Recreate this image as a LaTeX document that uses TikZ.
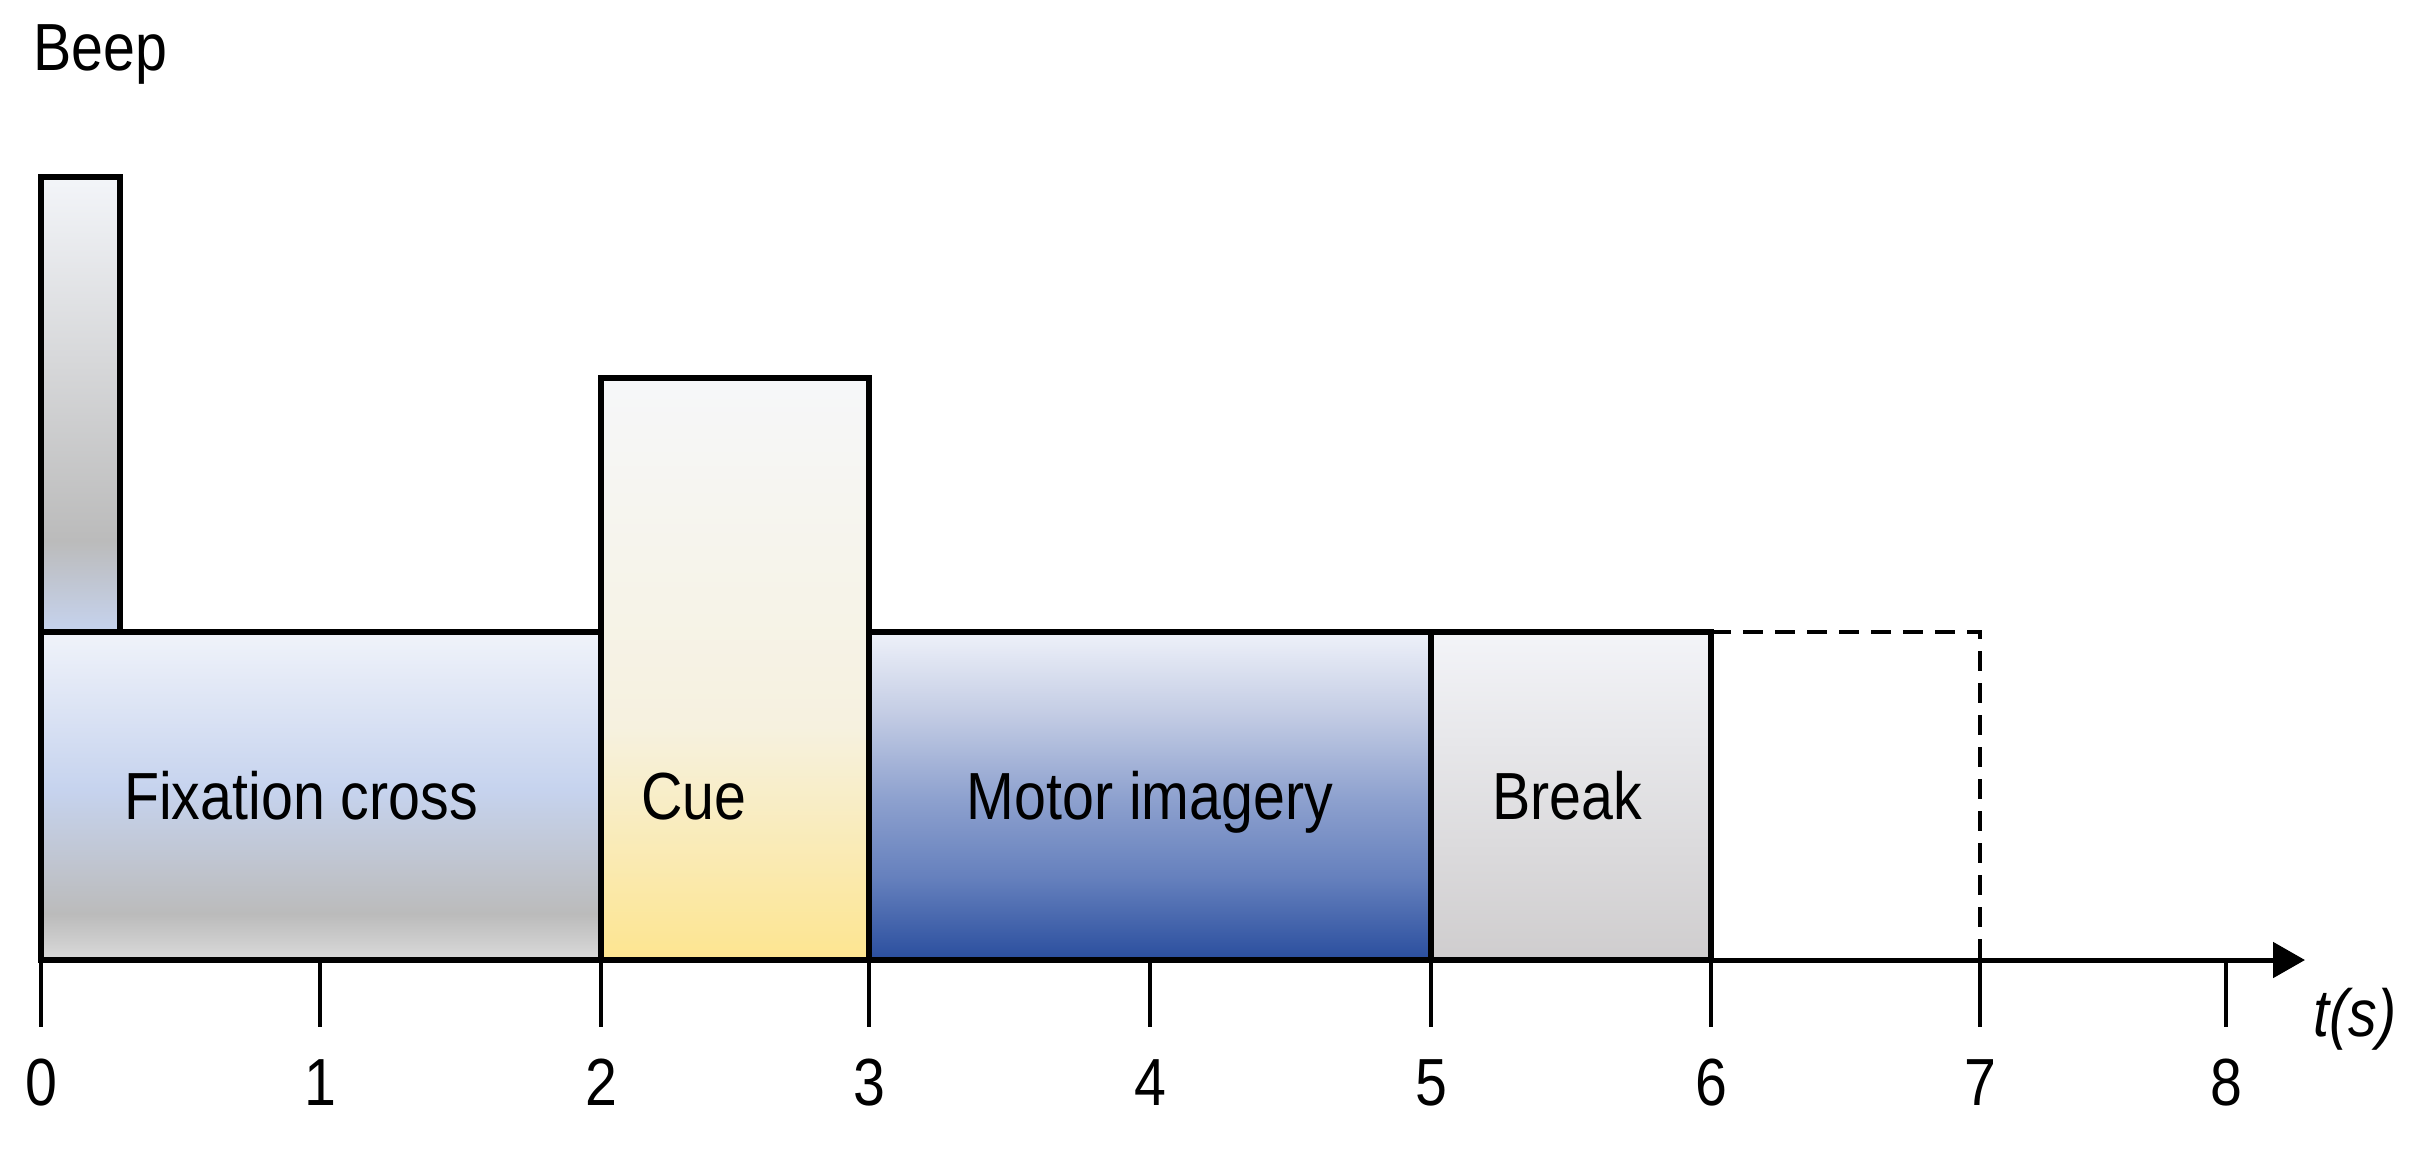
\documentclass[tikz,border=0pt]{standalone}
\usepackage{fontspec}
\setmainfont{Liberation Sans}[FakeStretch=0.86]
\usetikzlibrary{arrows.meta}

\definecolor{fixtop}{HTML}{F0F3FA}
\definecolor{fixblue}{HTML}{C6D3EE}
\definecolor{fixgrey}{HTML}{BBBBBB}
\definecolor{fixbot}{HTML}{DADADA}
\definecolor{beeptop}{HTML}{F3F5F9}
\definecolor{cuetop}{HTML}{F6F7F9}
\definecolor{cuemid}{HTML}{F6F1DF}
\definecolor{cuebot}{HTML}{FDE590}
\definecolor{mitop}{HTML}{EEF1F9}
\definecolor{mia}{HTML}{C3CCE4}
\definecolor{mib}{HTML}{8FA2CF}
\definecolor{mic}{HTML}{6580BD}
\definecolor{mibot}{HTML}{2A4E9E}
\definecolor{brktop}{HTML}{F3F4F8}
\definecolor{brkbot}{HTML}{CFCDCE}

\pgfdeclareverticalshading{beepshade}{100bp}{color(0bp)=(fixblue); color(25bp)=(fixblue); color(35bp)=(fixgrey); color(75bp)=(beeptop); color(100bp)=(beeptop)}
\pgfdeclareverticalshading{fixshade}{100bp}{color(0bp)=(fixbot); color(25bp)=(fixbot); color(32bp)=(fixgrey); color(51bp)=(fixblue); color(75bp)=(fixtop); color(100bp)=(fixtop)}
\pgfdeclareverticalshading{cueshade}{100bp}{color(0bp)=(cuebot); color(25bp)=(cuebot); color(45bp)=(cuemid); color(75bp)=(cuetop); color(100bp)=(cuetop)}
\pgfdeclareverticalshading{mishade}{100bp}{color(0bp)=(mibot); color(25bp)=(mibot); color(37.5bp)=(mic); color(50bp)=(mib); color(62.5bp)=(mia); color(75bp)=(mitop); color(100bp)=(mitop)}
\pgfdeclareverticalshading{brkshade}{100bp}{color(0bp)=(brkbot); color(25bp)=(brkbot); color(75bp)=(brktop); color(100bp)=(brktop)}

\begin{document}
\begin{tikzpicture}[x=0.3pt,y=-0.3pt,every node/.style={inner sep=0pt,font=\fontsize{20}{24}\selectfont}]
  \tikzstyle{phase}=[draw=black,line width=1.6pt]
  \tikzstyle{tick}=[line width=1.2pt]
  \tikzstyle{axis}=[line width=1.5pt,-{Triangle[length=9.6pt,width=10.5pt]}]

  \useasboundingbox (0,0) rectangle (2421,1164);

  \draw[phase,shading=beepshade] (41,177) rectangle (120,632);
  \draw[phase,shading=fixshade] (41,632) rectangle (601,960);
  \draw[phase,shading=cueshade] (601,378) rectangle (869,960);
  \draw[phase,shading=mishade] (869,632) rectangle (1431,960);
  \draw[phase,shading=brkshade] (1431,632) rectangle (1711,960);
  \draw[phase,line width=1.4pt,dash pattern=on 6pt off 3.6pt] (1711,632) -| (1980,960) -- (1711,960);

  \node[anchor=base west] (beep) at (33,70) {Beep};
  \node[anchor=base] (fix) at (301,819) {Fixation cross};
  \node[anchor=base] (cue) at (694,819) {Cue};
  \node[anchor=base] (mi) at (1150,819) {Motor imagery};
  \node[anchor=base] (brk) at (1567,819) {Break};

  \draw[axis] (41,960) -- (2305,960);
  \foreach \x/\t in {41/0,320/1,601/2,869/3,1150/4,1431/5,1711/6,1980/7,2226/8}
  {
    \draw[tick] (\x,960) -- (\x,1027);
    \node[anchor=base] (t\t) at (\x,1105) {\t};
  }
  \node[anchor=base] (tlabel) at (2355,1036) {\textit{t(s)}};
\end{tikzpicture}
\end{document}
